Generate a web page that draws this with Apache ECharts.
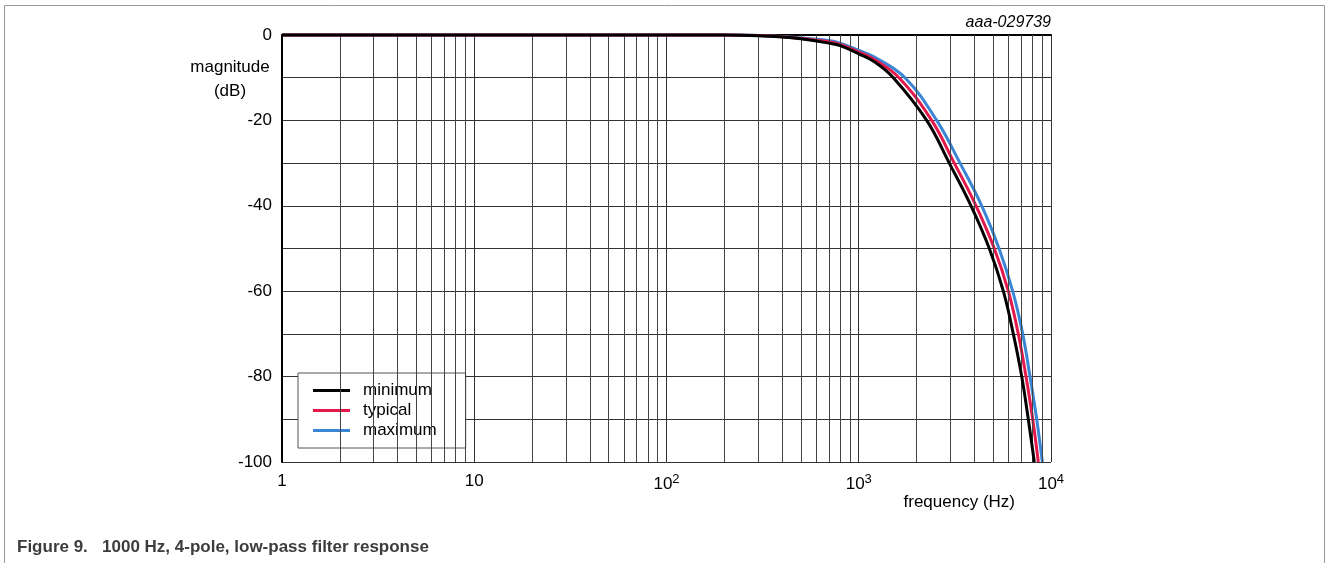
<!DOCTYPE html>
<html>
<head>
<meta charset="utf-8">
<title>low-pass filter response</title>
<script src="https://cdn.jsdelivr.net/npm/echarts@6/dist/echarts.min.js"></script>
<style>
  html, body { margin: 0; padding: 0; background: #fff; }
  #chart { width: 1328px; height: 563px; }
</style>
</head>
<body>
<div id="chart"></div>
<script>
// values (frequency in Hz, magnitude in dB)
var freqMin = [1, 100, 200, 300, 400, 500, 700, 800, 1000, 1200, 1513, 2257, 2958, 3838, 4777, 5651, 6368, 7043, 7620, 8188];
var dbMin   = [0, 0, -0.02, -0.15, -0.45, -0.9, -1.9, -2.5, -4.4, -6.2, -10, -20, -30, -40, -50, -60, -70, -80, -90, -100];

var freqTyp = [1, 100, 200, 300, 400, 500, 700, 800, 1000, 1200, 1619, 2396, 3141, 4074, 5072, 5998, 6759, 7413, 8035, 8590];
var dbTyp   = [0, 0, -0.02, -0.13, -0.4, -0.8, -1.6, -2.2, -4.0, -5.7, -10, -20, -30, -40, -50, -60, -70, -80, -90, -100];

var freqMax = [1, 100, 200, 300, 400, 500, 700, 800, 1000, 1200, 1740, 2544, 3363, 4362, 5366, 6320, 7127, 7776, 8428, 9015];
var dbMax   = [0, 0, -0.02, -0.1, -0.35, -0.7, -1.3, -1.9, -3.6, -5.1, -10, -20, -30, -40, -50, -60, -70, -80, -90, -100];

var seriesNames = ['minimum', 'typical', 'maximum'];
var seriesColors = ['#000000', '#e3194b', '#3b86d4'];

// minor grid positions of the log axis: 2..9 of each decade
var decades = [1, 10, 100, 1000];
var minorSteps = [2, 3, 4, 5, 6, 7, 8, 9];
var xTickLabels = ['1', '10', '10{s|2}', '10{s|3}', '10{s|4}'];

var minorGrid = [];
decades.forEach(function (d) {
  minorSteps.forEach(function (m) { minorGrid.push({ xAxis: d * m }); });
});

function pairs(xs, ys) {
  return xs.map(function (x, i) { return [x, ys[i]]; });
}

var FONT = '"Liberation Sans", Arial, sans-serif';
var chart = echarts.init(document.getElementById('chart'));

function curve(name, idx, xs, ys, z) {
  return {
    name: name,
    type: 'line',
    data: pairs(xs, ys),
    smooth: 0.4,
    showSymbol: false,
    symbol: 'none',
    clip: false,
    z: z,
    lineStyle: { color: seriesColors[idx], width: 3 },
    itemStyle: { color: seriesColors[idx] }
  };
}

var option = {
  animation: false,
  backgroundColor: '#fff',
  textStyle: { fontFamily: FONT },
  grid: { left: 282, top: 35, right: 277, bottom: 101, containLabel: false },
  legend: {
    data: seriesNames,
    orient: 'vertical',
    left: 298,
    top: 373,
    icon: 'rect',
    itemWidth: 37,
    itemHeight: 3,
    itemGap: 1,
    padding: [8, 29, 8, 15],
    backgroundColor: '#fff',
    borderColor: '#555',
    borderWidth: 1,
    textStyle: { fontSize: 17, color: '#000', fontFamily: FONT, lineHeight: 19, padding: [0, 0, 0, 8] }
  },
  xAxis: {
    type: 'log',
    logBase: 10,
    min: 1,
    max: 10000,
    axisLine: { show: true, lineStyle: { color: '#000', width: 2 } },
    axisTick: { show: false },
    splitLine: { show: true, lineStyle: { color: '#333', width: 1 } },
    axisLabel: {
      margin: 11,
      color: '#000',
      fontSize: 17,
      fontFamily: FONT,
      formatter: function (v) {
        var i = Math.round(Math.log10(v));
        return xTickLabels[i];
      },
      rich: {
        s: { fontSize: 13, color: '#000', fontFamily: FONT, padding: [0, 0, 9, 0] }
      }
    }
  },
  yAxis: {
    type: 'value',
    min: -100,
    max: 0,
    interval: 10,
    axisLine: { show: true, lineStyle: { color: '#000', width: 2 } },
    axisTick: { show: false },
    splitLine: { show: true, lineStyle: { color: '#333', width: 1 } },
    axisLabel: {
      margin: 10,
      color: '#000',
      fontSize: 17,
      fontFamily: FONT,
      formatter: function (v) { return v % 20 === 0 ? String(v) : ''; }
    }
  },
  graphic: [
    {
      type: 'rect',
      silent: true,
      shape: { x: 4.5, y: 5.5, width: 1320, height: 600 },
      style: { fill: 'none', stroke: '#999', lineWidth: 1 },
      z: -10
    },
    {
      type: 'text', silent: true,
      style: { x: 230, y: 67, text: 'magnitude', font: '17px ' + FONT, fill: '#000', textAlign: 'center', textVerticalAlign: 'middle' }
    },
    {
      type: 'text', silent: true,
      style: { x: 230, y: 91, text: '(dB)', font: '17px ' + FONT, fill: '#000', textAlign: 'center', textVerticalAlign: 'middle' }
    },
    {
      type: 'text', silent: true,
      style: { x: 1015, y: 502, text: 'frequency (Hz)', font: '17px ' + FONT, fill: '#000', textAlign: 'right', textVerticalAlign: 'middle' }
    },
    {
      type: 'text', silent: true,
      style: { x: 1051, y: 23, text: 'aaa-029739', font: 'italic 16px ' + FONT, fill: '#000', textAlign: 'right', textVerticalAlign: 'middle' }
    },
    {
      type: 'text', silent: true,
      style: { x: 17, y: 547, text: 'Figure 9.   1000 Hz, 4-pole, low-pass filter response', font: 'bold 17px ' + FONT, fill: '#3c3c3c', textAlign: 'left', textVerticalAlign: 'middle' }
    }
  ],
  series: [
    {
      // minor vertical grid lines of the log axis
      name: 'grid',
      type: 'line',
      data: [[1, 0]],
      symbol: 'none',
      lineStyle: { opacity: 0 },
      silent: true,
      z: 1,
      markLine: {
        silent: true,
        symbol: 'none',
        label: { show: false },
        animation: false,
        lineStyle: { color: '#444', width: 1, type: 'solid' },
        data: minorGrid
      }
    },
    curve(seriesNames[2], 2, freqMax, dbMax, 3),
    curve(seriesNames[1], 1, freqTyp, dbTyp, 4),
    curve(seriesNames[0], 0, freqMin, dbMin, 5)
  ]
};

chart.setOption(option);
</script>
</body>
</html>
